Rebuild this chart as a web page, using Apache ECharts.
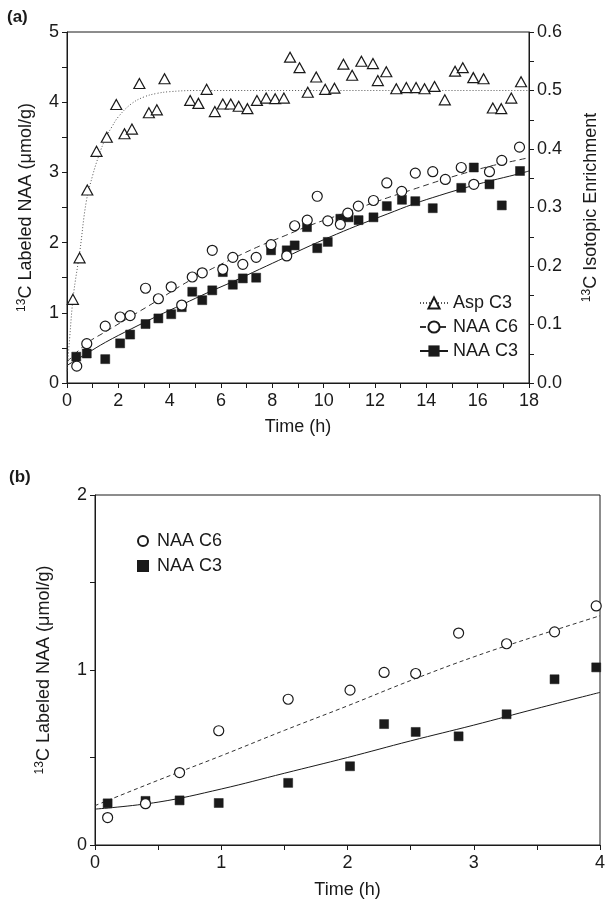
<!DOCTYPE html>
<html>
<head>
<meta charset="utf-8">
<script src="https://cdn.jsdelivr.net/npm/echarts@6/dist/echarts.min.js"></script>
<style>
html,body{margin:0;padding:0;background:#fff;}
#c{width:611px;height:906px;}
</style>
</head>
<body>
<div id="c"></div>
<script>
// ---------- Panel (a) data ----------
var aspT = [0.23,0.49,0.79,1.15,1.55,1.92,2.24,2.53,2.82,3.19,3.50,3.80,4.80,5.12,5.44,5.76,6.07,6.38,6.69,7.03,7.40,7.76,8.11,8.45,8.69,9.06,9.38,9.71,10.06,10.42,10.77,11.11,11.47,11.92,12.11,12.44,12.83,13.22,13.60,13.93,14.32,14.72,15.12,15.42,15.83,16.23,16.59,16.92,17.31,17.69];
var aspE = [0.143,0.214,0.330,0.396,0.420,0.476,0.426,0.434,0.512,0.462,0.467,0.520,0.483,0.478,0.502,0.464,0.477,0.477,0.473,0.469,0.483,0.487,0.486,0.487,0.557,0.539,0.497,0.523,0.502,0.504,0.545,0.526,0.550,0.546,0.517,0.532,0.503,0.505,0.505,0.503,0.507,0.484,0.533,0.539,0.522,0.520,0.470,0.469,0.487,0.515];

var c6T = [0.38,0.77,1.49,2.07,2.46,3.06,3.56,4.06,4.47,4.88,5.27,5.66,6.07,6.46,6.85,7.37,7.95,8.56,8.87,9.36,9.75,10.16,10.65,10.94,11.35,11.94,12.46,13.04,13.57,14.25,14.74,15.36,15.85,16.46,16.94,17.63];
var c6V = [0.24,0.56,0.81,0.94,0.96,1.35,1.20,1.37,1.11,1.51,1.57,1.89,1.62,1.79,1.69,1.79,1.97,1.81,2.24,2.32,2.66,2.31,2.26,2.42,2.52,2.60,2.85,2.73,2.99,3.01,2.90,3.07,2.83,3.01,3.17,3.36];

var c3T = [0.36,0.77,1.49,2.07,2.46,3.06,3.56,4.06,4.47,4.88,5.27,5.66,6.07,6.46,6.85,7.37,7.95,8.56,8.87,9.35,9.75,10.16,10.65,10.97,11.36,11.94,12.46,13.05,13.57,14.25,15.36,15.85,16.46,16.94,17.65];
var c3V = [0.375,0.42,0.34,0.565,0.69,0.84,0.92,0.98,1.08,1.30,1.18,1.32,1.58,1.40,1.49,1.50,1.89,1.89,1.96,2.22,1.92,2.01,2.34,2.36,2.32,2.36,2.52,2.61,2.59,2.49,2.78,3.07,2.83,2.53,3.02];

// fitted curves
var aspFitT = [0,0.1,0.25,0.5,0.75,1,1.25,1.5,1.75,2,2.5,3,3.5,4,5,6,18];
var aspFitE = [0.02,0.075,0.15,0.225,0.31,0.355,0.39,0.418,0.438,0.455,0.477,0.489,0.495,0.498,0.5,0.5,0.5];
var c6FitT = [0,0.77,1.5,2.5,3.5,4.5,5.5,6.5,7.5,8.5,9.5,10.5,11.5,12.5,13.5,14.5,15.5,16.5,17.5,18];
var c6FitV = [0.30,0.565,0.73,0.95,1.17,1.40,1.60,1.78,1.95,2.10,2.25,2.38,2.51,2.64,2.76,2.88,2.99,3.09,3.17,3.21];
var c3FitT = [0,0.77,1.5,2.5,3.5,4.5,5.5,6.5,7.5,8.5,9.5,10.5,11.5,12.5,13.5,14.5,15.5,16.5,17.5,18];
var c3FitV = [0.25,0.42,0.58,0.77,0.95,1.12,1.29,1.45,1.62,1.79,1.96,2.12,2.27,2.41,2.55,2.67,2.78,2.88,2.97,3.02];

// ---------- Panel (b) data ----------
var bT   = [0.10,0.40,0.67,0.98,1.53,2.02,2.29,2.54,2.88,3.26,3.64,3.97];
var bC6  = [0.157,0.236,0.414,0.653,0.833,0.885,0.986,0.980,1.211,1.150,1.218,1.366];
var bC3  = [0.238,0.252,0.255,0.240,0.355,0.450,0.691,0.646,0.621,0.747,0.947,1.015];
var bFitT  = [0,0.5,1,1.5,2,2.5,3,3.5,4];
var bC6Fit = [0.225,0.37,0.51,0.655,0.795,0.94,1.075,1.195,1.31];
var bC3Fit = [0.205,0.245,0.32,0.41,0.50,0.595,0.685,0.78,0.872];

// tick labels
var aXTicks = [0,2,4,6,8,10,12,14,16,18];
var aYLeft  = [0,1,2,3,4,5];
var aYRight = ['0.0','0.1','0.2','0.3','0.4','0.5','0.6'];
var bXTicks = [0,1,2,3,4];
var bYTicks = [0,1,2];

function zip(a,b){ return a.map(function(v,i){ return [v,b[i]]; }); }

var FONT = 'Liberation Sans, Arial, Helvetica, sans-serif';
var INK = '#1a1a1a';
var FS = 18;

function axisCommon(){
  return {
    axisLine:{show:true,lineStyle:{color:INK,width:1}},
    axisTick:{show:true,length:5,lineStyle:{color:INK,width:1}},
    minorTick:{show:true,splitNumber:2,length:5,lineStyle:{color:INK,width:1}},
    splitLine:{show:false},
    minorSplitLine:{show:false},
    axisLabel:{color:INK,fontSize:FS,fontFamily:FONT},
    nameTextStyle:{color:INK,fontSize:FS,fontFamily:FONT}
  };
}
function merge(a,b){ for(var k in b){ a[k]=b[k]; } return a; }
var supRich = {
  sup:{fontSize:12,fontFamily:FONT,color:INK,verticalAlign:'top',lineHeight:21},
  n:{fontSize:FS,fontFamily:FONT,color:INK,lineHeight:21}
};

var chart = echarts.init(document.getElementById('c'), null, {renderer:'canvas'});
var option = {
  animation:false,
  backgroundColor:'#fff',
  textStyle:{fontFamily:FONT},
  title:[
    {text:'(a)',left:2,top:4,textStyle:{fontSize:17,fontWeight:'bold',color:INK,fontFamily:FONT}},
    {text:'(b)',left:4,top:464,textStyle:{fontSize:17,fontWeight:'bold',color:INK,fontFamily:FONT}}
  ],
  grid:[
    {left:67,top:32,width:462,height:351,show:true,borderColor:INK,borderWidth:1,backgroundColor:'transparent'},
    {left:95,top:495,width:505,height:350,show:true,borderColor:INK,borderWidth:1,backgroundColor:'transparent'}
  ],
  xAxis:[
    merge(axisCommon(),{gridIndex:0,type:'value',min:0,max:18,interval:2,
      axisLabel:{color:INK,fontSize:FS,fontFamily:FONT,margin:9,
        formatter:function(v){ return aXTicks.indexOf(v)>=0 ? String(v) : ''; }},
      name:'Time (h)',nameLocation:'middle',nameGap:35}),
    merge(axisCommon(),{gridIndex:1,type:'value',min:0,max:4,interval:1,
      axisLabel:{color:INK,fontSize:FS,fontFamily:FONT,margin:9,
        formatter:function(v){ return bXTicks.indexOf(v)>=0 ? String(v) : ''; }},
      name:'Time (h)',nameLocation:'middle',nameGap:36})
  ],
  yAxis:[
    merge(axisCommon(),{gridIndex:0,type:'value',min:0,max:5,interval:1,position:'left',
      axisLabel:{color:INK,fontSize:FS,fontFamily:FONT,margin:8,
        formatter:function(v){ return aYLeft.indexOf(v)>=0 ? String(v) : ''; }},
      name:'{sup|13}{n|C Labeled NAA (μmol/g)}',nameLocation:'middle',nameRotate:90,nameGap:30,
      nameTextStyle:{rich:supRich}}),
    merge(axisCommon(),{gridIndex:0,type:'value',min:0,max:0.6,interval:0.1,position:'right',
      axisLabel:{color:INK,fontSize:FS,fontFamily:FONT,margin:8,
        formatter:function(v){ var s=v.toFixed(1); return aYRight.indexOf(s)>=0 ? s : ''; }},
      name:'{sup|13}{n|C Isotopic Enrichment}',nameLocation:'middle',nameRotate:90,nameGap:52,
      nameTextStyle:{rich:supRich}}),
    merge(axisCommon(),{gridIndex:1,type:'value',min:0,max:2,interval:1,
      axisLabel:{color:INK,fontSize:FS,fontFamily:FONT,margin:8,
        formatter:function(v){ return bYTicks.indexOf(v)>=0 ? String(v) : ''; }},
      name:'{sup|13}{n|C Labeled NAA (μmol/g)}',nameLocation:'middle',nameRotate:90,nameGap:40,
      nameTextStyle:{rich:supRich}})
  ],
  legend:[
    {orient:'vertical',left:414,top:289,itemGap:6,itemWidth:28,itemHeight:14,
      data:['Asp C3','NAA C6','NAA C3'],
      textStyle:{color:INK,fontSize:FS,fontFamily:FONT},
      selectedMode:false},
    {orient:'vertical',left:132,top:527,itemGap:7,itemWidth:10,itemHeight:10,
      data:['b NAA C6','b NAA C3'],
      formatter:function(n){ return n.replace('b ',''); },
      textStyle:{color:INK,fontSize:FS,fontFamily:FONT,padding:[0,0,0,4]},
      selectedMode:false}
  ],
  series:[
    {name:'Asp C3',type:'line',xAxisIndex:0,yAxisIndex:1,data:zip(aspFitT,aspFitE),smooth:0.4,
      showSymbol:false,symbol:'triangle',symbolSize:10,
      itemStyle:{color:'#fff',borderColor:INK,borderWidth:1.2},
      lineStyle:{color:'#555',width:1,type:[1,2]},z:2},
    {name:'NAA C6',type:'line',xAxisIndex:0,yAxisIndex:0,data:zip(c6FitT,c6FitV),smooth:0.4,
      showSymbol:false,symbol:'circle',symbolSize:9,
      itemStyle:{color:'#fff',borderColor:INK,borderWidth:1.2},
      lineStyle:{color:'#333',width:1,type:[6,4]},z:2},
    {name:'NAA C3',type:'line',xAxisIndex:0,yAxisIndex:0,data:zip(c3FitT,c3FitV),smooth:0.4,
      showSymbol:false,symbol:'rect',symbolSize:9,
      itemStyle:{color:INK,borderColor:INK},
      lineStyle:{color:INK,width:1},z:2},
    {name:'pts C3',type:'scatter',xAxisIndex:0,yAxisIndex:0,data:zip(c3T,c3V),symbol:'rect',symbolSize:9,
      itemStyle:{color:INK,borderColor:INK,borderWidth:0.5,opacity:1},z:3},
    {name:'pts C6',type:'scatter',xAxisIndex:0,yAxisIndex:0,data:zip(c6T,c6V),symbol:'circle',symbolSize:10,
      itemStyle:{color:'#fff',borderColor:INK,borderWidth:1.2,opacity:1},z:4},
    {name:'pts Asp',type:'scatter',xAxisIndex:0,yAxisIndex:1,data:zip(aspT,aspE),symbol:'triangle',symbolSize:[11,10],
      itemStyle:{color:'#fff',borderColor:INK,borderWidth:1.2,opacity:1},z:4},
    {name:'b fit C6',type:'line',xAxisIndex:1,yAxisIndex:2,data:zip(bFitT,bC6Fit),smooth:0.4,showSymbol:false,
      lineStyle:{color:'#333',width:1,type:[4,3]},z:2},
    {name:'b fit C3',type:'line',xAxisIndex:1,yAxisIndex:2,data:zip(bFitT,bC3Fit),smooth:0.4,showSymbol:false,
      lineStyle:{color:INK,width:1},z:2},
    {name:'b NAA C3',type:'scatter',xAxisIndex:1,yAxisIndex:2,data:zip(bT,bC3),symbol:'rect',symbolSize:9,
      itemStyle:{color:INK,borderColor:INK,borderWidth:0.5,opacity:1},z:3},
    {name:'b NAA C6',type:'scatter',xAxisIndex:1,yAxisIndex:2,data:zip(bT,bC6),symbol:'circle',symbolSize:10,
      itemStyle:{color:'#fff',borderColor:INK,borderWidth:1.2,opacity:1},z:4}
  ]
};
chart.setOption(option);
</script>
</body>
</html>
